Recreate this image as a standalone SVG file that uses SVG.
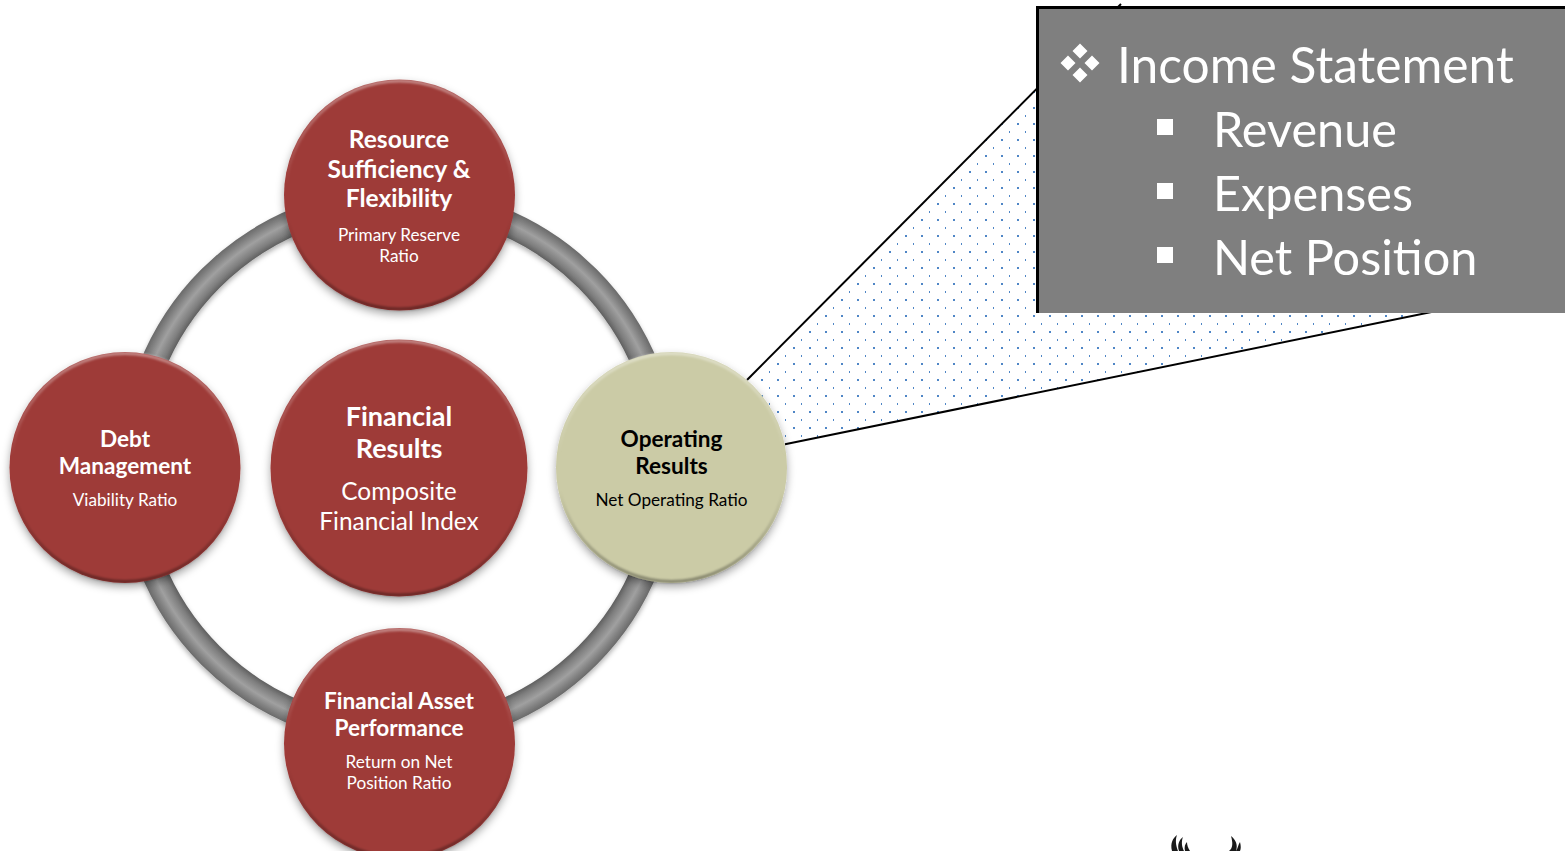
<svg xmlns="http://www.w3.org/2000/svg" width="1565" height="851" viewBox="0 0 1565 851">
<style>
text{font-family:Lato,"Liberation Sans",sans-serif;text-anchor:middle;fill:#fff}
.h{font-weight:700;font-size:24.6px}
.h2{font-weight:700;font-size:22.6px}
.h3{font-weight:700;font-size:27px}
.m{font-size:24.4px}
.s{font-size:17.2px}
.d{fill:#000}
.b{text-anchor:start;font-size:48.6px}
.ln{stroke:#000;stroke-width:2;fill:none}
.rim{fill:none;stroke:url(#rim);stroke-width:3;filter:url(#soft)}
.red{fill:#9e3a38;filter:url(#sh)}
.tan{fill:#cbcba6;filter:url(#sh)}
</style>
<defs>
<pattern id="dots" width="16" height="16" patternUnits="userSpaceOnUse" patternTransform="translate(10 12)">
<rect x="-1" y="-1" width="2" height="2" fill="#4f86c6"/><rect x="15" y="-1" width="2" height="2" fill="#4f86c6"/><rect x="-1" y="15" width="2" height="2" fill="#4f86c6"/><rect x="15" y="15" width="2" height="2" fill="#4f86c6"/>
<rect x="7" y="7" width="1" height="2" fill="#4f86c6"/>
</pattern>
<radialGradient id="ringG" gradientUnits="userSpaceOnUse" cx="399" cy="467" r="280">
<stop offset="0.905" stop-color="#5f5f5f"/><stop offset="0.925" stop-color="#7f7f7f"/><stop offset="0.955" stop-color="#a0a0a0"/><stop offset="0.98" stop-color="#808080"/><stop offset="1" stop-color="#686868"/>
</radialGradient>
<linearGradient id="rim" x1="0" y1="0" x2="0" y2="1">
<stop offset="0" stop-color="#fff" stop-opacity=".4"/><stop offset=".45" stop-color="#fff" stop-opacity="0"/><stop offset=".6" stop-color="#000" stop-opacity="0"/><stop offset="1" stop-color="#000" stop-opacity=".35"/>
</linearGradient>
<filter id="soft" x="-5%" y="-5%" width="110%" height="110%"><feGaussianBlur stdDeviation="0.8"/></filter>
<filter id="sh" x="-15%" y="-15%" width="130%" height="130%"><feDropShadow dx="0" dy="4" stdDeviation="4" flood-color="#000" flood-opacity=".35"/></filter>
<filter id="shr" filterUnits="userSpaceOnUse" x="100" y="170" width="600" height="600"><feDropShadow dx="0" dy="3" stdDeviation="2.5" flood-color="#000" flood-opacity=".3"/></filter>
</defs>

<g id="connectors">
<circle id="ring" cx="399" cy="467" r="266.5" fill="none" stroke="url(#ringG)" stroke-width="26" filter="url(#shr)"/>
<polygon id="callout-wedge" points="748,380 1120,5 1500,298 785,444" fill="url(#dots)"/>
<line class="ln" x1="747" y1="380" x2="1121" y2="4"/>
<line class="ln" x1="785" y1="444.300" x2="1500" y2="298"/>
</g>

<g id="node-center">
<circle class="red" cx="399" cy="468" r="128.500"/><circle class="rim" cx="399" cy="468" r="127"/>
<text x="399" y="425.500" class="h3">Financial</text>
<text x="399" y="457.500" class="h3">Results</text>
<text x="399" y="500" class="m">Composite</text>
<text x="399" y="529.500" class="m">Financial Index</text>
</g>

<g id="node-top">
<circle class="red" cx="399.500" cy="195" r="115.500"/><circle class="rim" cx="399.500" cy="195" r="114"/>
<text x="399" y="148" class="h">Resource</text>
<text x="399" y="178" class="h">Sufficiency &amp;</text>
<text x="399" y="207" class="h">Flexibility</text>
<text x="399" y="240.500" class="s">Primary Reserve</text>
<text x="399" y="261.500" class="s">Ratio</text>
</g>

<g id="node-left">
<circle class="red" cx="125" cy="467.500" r="115.500"/><circle class="rim" cx="125" cy="467.500" r="114"/>
<text x="125" y="446.500" class="h2">Debt</text>
<text x="125" y="473.500" class="h2">Management</text>
<text x="125" y="505.500" class="s">Viability Ratio</text>
</g>

<g id="node-right">
<circle class="tan" cx="671.500" cy="467.500" r="115.500"/><circle class="rim" cx="671.500" cy="467.500" r="114"/>
<text x="671.500" y="446.500" class="h2 d">Operating</text>
<text x="671.500" y="473.500" class="h2 d">Results</text>
<text x="671.500" y="505.500" class="s d">Net Operating Ratio</text>
</g>

<g id="node-bottom">
<circle class="red" cx="399.500" cy="743.500" r="115.500"/><circle class="rim" cx="399.500" cy="743.500" r="114"/>
<text x="399" y="708.500" class="h2">Financial Asset</text>
<text x="399" y="735.500" class="h2">Performance</text>
<text x="399" y="767.500" class="s">Return on Net</text>
<text x="399" y="788.500" class="s">Position Ratio</text>
</g>

<g id="callout-box">
<path d="M1565 7H1037V313H1565Z" fill="#7f7f7f"/>
<path d="M1565 7.500H1037.500V313" fill="none" stroke="#000" stroke-width="3"/>
<path fill="#fff" d="M1080 43.500l7.500 7.500-7.500 7.500-7.500-7.500ZM1068 55.500l7.500 7.500-7.500 7.500-7.500-7.500ZM1092 55.500l7.500 7.500-7.500 7.500-7.500-7.500ZM1080 67.500l7.500 7.500-7.500 7.500-7.500-7.500Z"/>
<text x="1117" y="83" class="b" style="font-size:49.700px">Income Statement</text>
<rect x="1157" y="119" width="16" height="16" fill="#fff"/>
<text x="1213" y="146.500" class="b">Revenue</text>
<rect x="1157" y="183" width="16" height="16" fill="#fff"/>
<text x="1213" y="210.500" class="b">Expenses</text>
<rect x="1157" y="247" width="16" height="16" fill="#fff"/>
<text x="1213" y="274.500" class="b">Net Position</text>
</g>

<g id="bottom-mark" fill="#1a1a1a">
<path d="M1172 851C1170 843 1173 838 1177 835C1175 840 1176 846 1178 851ZM1179 851C1177 845 1179 840 1183 837C1181 842 1182 847 1184 851ZM1185 851C1184 847 1185 844 1187 842C1187 845 1188 848 1190 851Z"/>
<path d="M1229 851C1233 848 1233 843 1231 836C1236 840 1238 845 1236 851ZM1236 851C1238 848 1238 845 1240 842C1241 846 1241 849 1240 851Z"/>
</g>
</svg>
